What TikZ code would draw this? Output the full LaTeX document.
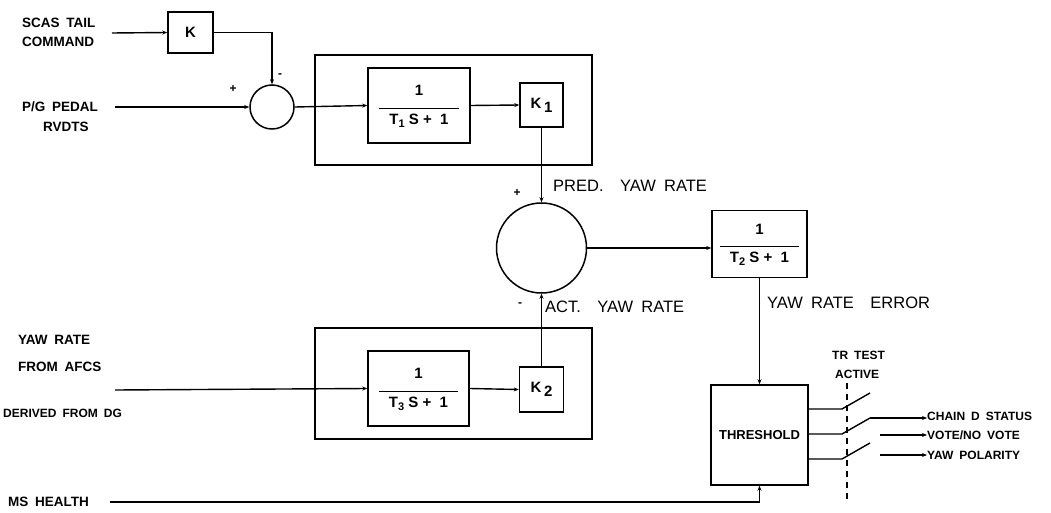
\documentclass[tikz,border=0pt]{standalone}
\usepackage{fontspec}
\setmainfont{Liberation Sans}
\usetikzlibrary{arrows.meta}

% first order lag, 1 over T s + 1
\newcommand{\lagfrac}[1]{{\renewcommand{\arraystretch}{1.45}%
  \begin{tabular}{@{\hspace{10pt}}c@{\hspace{10pt}}}1\\[5pt]\hline
  T\raisebox{-3pt}{\fontsize{11}{11}\selectfont #1}\ S + \ 1\end{tabular}}}

\begin{document}
\begin{tikzpicture}[x=1pt, y=-1pt,
    blk/.style={draw, line width=1.5pt, inner sep=0pt, font=\bfseries\fontsize{15}{16}\selectfont},
    sumnode/.style={circle, draw, line width=1.5pt, inner sep=0pt},
    sig/.style={line width=1.4pt},
    sigarr/.style={sig, -{Stealth[length=5pt, width=4pt]}},
    lbl/.style={anchor=west, inner sep=0pt, font=\bfseries\fontsize{13.5}{14}\selectfont},
    biglbl/.style={anchor=west, inner sep=0pt, font=\fontsize{16.5}{17}\selectfont},
    smlbl/.style={anchor=west, inner sep=0pt, font=\bfseries\fontsize{12}{13}\selectfont},
    sgn/.style={inner sep=0pt, font=\bfseries\fontsize{12}{12}\selectfont}]
  \useasboundingbox (0,0) rectangle (1051,513);

  % pedal path with SCAS command
  \node[lbl] (scas) at (22,23) {SCAS\enspace TAIL};
  \node[lbl] (cmd) at (22,42) {COMMAND};
  \node[lbl] (pedal) at (22,107) {P/G\enspace PEDAL};
  \node[lbl] (rvdt) at (43,127) {RVDTS};
  \coordinate (scasin) at (112,33);
  \coordinate (pedalin) at (115,107);
  \node[blk, minimum width=45pt, minimum height=41pt] (kgain) at (190.5,32.5) {K};
  \node[sumnode, minimum size=44pt] (sumA) at (272,107) {};
  \node[sgn] (plusA) at (233,89) {+};
  \node[sgn] (minusA) at (280,76) {-};

  % predicted yaw rate model
  \node[blk, minimum width=277pt, minimum height=110pt] (grpA) at (453.5,110) {};
  \node[blk, minimum width=102pt, minimum height=75pt] (lagA) at (419,105.5) {\lagfrac{1}};
  \node[blk, minimum width=43pt, minimum height=44pt] (kA) at (541.5,105) {K\,\raisebox{-4pt}{1}};

  % comparison
  \node[sumnode, minimum size=90pt] (sumB) at (541.5,248) {};
  \node[sgn] (plusB) at (517,193) {+};
  \node[sgn] (minusB) at (520,305) {-};
  \node[biglbl] (pred) at (553,186) {PRED.\quad YAW\enspace RATE};
  \node[biglbl] (act) at (545,307) {ACT.\quad YAW\enspace RATE};
  \node[blk, minimum width=95pt, minimum height=67pt] (lagT) at (759.5,244) {\lagfrac{2}};
  \node[biglbl] (err) at (767,303) {YAW\enspace RATE\quad ERROR};

  % actual yaw rate path
  \node[lbl] (yawr) at (18,340) {YAW\enspace RATE};
  \node[lbl] (afcs) at (18,367) {FROM\enspace AFCS};
  \node[smlbl] (dg) at (3,413) {DERIVED\enspace FROM\enspace DG};
  \coordinate (afcsin) at (115,390);
  \node[blk, minimum width=277pt, minimum height=111pt] (grpB) at (453.5,383.5) {};
  \node[blk, minimum width=101pt, minimum height=75pt] (lagB) at (418.5,388.5) {\lagfrac{3}};
  \node[blk, minimum width=44pt, minimum height=45pt] (kB) at (541.5,389.5) {K\,\raisebox{-4pt}{2}};

  % threshold and outputs
  \node[blk, minimum width=97pt, minimum height=100pt, font=\bfseries\fontsize{13}{14}\selectfont] (thr) at (759.5,435) {THRESHOLD};
  \node[smlbl] (trt) at (832,355) {TR\enspace TEST};
  \node[smlbl] (tra) at (835,374) {ACTIVE};
  \node[smlbl] (chain) at (927,416) {CHAIN\enspace D\enspace STATUS};
  \node[smlbl] (vote) at (927,435) {VOTE/NO\enspace VOTE};
  \node[smlbl] (pol) at (927,455) {YAW\enspace POLARITY};
  \node[lbl] (ms) at (8,502) {MS\enspace HEALTH};
  \coordinate (msin) at (110,502);
  \coordinate (trtop) at (847,383);
  \coordinate (trbot) at (847,500);

  % connections
  \draw[sigarr] (scasin) -- (kgain.west);
  \draw[sigarr] (kgain.east) -| (sumA.north);
  \draw[sigarr] (pedalin) -- (sumA.west);
  \draw[sigarr] (sumA.east) -- (lagA.west);
  \draw[sigarr] (lagA.east) -- (kA.west);
  \draw[sigarr] (kA.south) -- (sumB.north);
  \draw[sigarr] (kB.north) -- (sumB.south);
  \draw[sigarr] (afcsin) -- (lagB.west);
  \draw[sigarr] (lagB.east) -- (kB.west);
  \draw[sigarr] (sumB.east) -- (sumB.east -| lagT.west);
  \draw[sigarr] (lagT.south) -- (thr.north);
  \draw[sigarr] (msin) -| (thr.south);

  % test switches
  \draw[sig, dashed, dash pattern=on 6pt off 5pt] (trtop) -- (trbot);
  \foreach \i/\yy in {1/409,2/434,3/459} {
    \coordinate (c\i) at (842,\yy);
    \draw[sig] (thr.east |- c\i) -- (c\i) -- ++(28,-16);
  }
  \coordinate (o1) at (870,418);
  \coordinate (o2) at (880,435);
  \coordinate (o3) at (880,455);
  \draw[sigarr] (o1) -- (o1 -| chain.west);
  \draw[sigarr] (o2) -- (o2 -| vote.west);
  \draw[sigarr] (o3) -- (o3 -| pol.west);
\end{tikzpicture}
\end{document}
